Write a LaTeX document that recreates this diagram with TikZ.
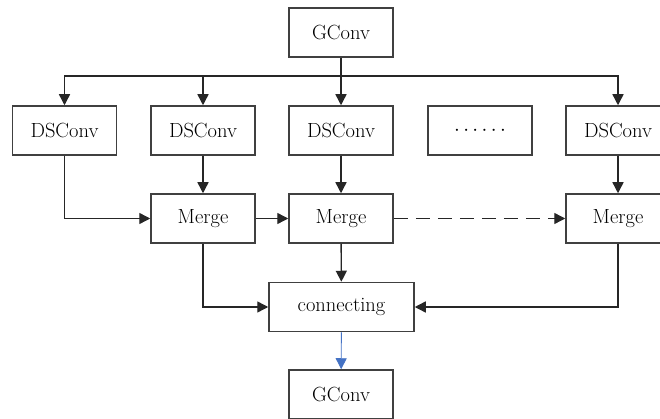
\documentclass[tikz,border=0pt]{standalone}
\usetikzlibrary{arrows.meta}
\definecolor{boxline}{HTML}{404040}
\definecolor{bluearr}{HTML}{4472C4}
\begin{document}
\begin{tikzpicture}[x=1pt,y=-1pt,
  blk/.style={draw=boxline,line width=1.5pt,minimum width=104pt,minimum height=49pt,inner sep=0pt,font=\fontsize{20.5}{24}\selectfont},
  arr/.style={line width=1.4pt,draw=black!85,-{Triangle[length=11pt,width=11pt]}},
  ln/.style={line width=1.4pt,draw=black!85}]
\useasboundingbox (0,0) rectangle (660,419);
\node[blk] (g1) at (341,32.5) {GConv};
\node[blk] (d1) at (64.5,130.5) {DSConv};
\node[blk] (d2) at (203,130.5) {DSConv};
\node[blk] (d3) at (341,130.5) {DSConv};
\node[blk] (dots) at (480,130.5) {$\cdots\cdots$};
\node[blk] (d5) at (618,130.5) {DSConv};
\node[blk] (m1) at (203,218.5) {Merge};
\node[blk] (m2) at (341,218.5) {Merge};
\node[blk] (m3) at (618,218.5) {Merge};
\node[blk,minimum width=145pt] (c) at (341.5,307) {connecting};
\node[blk] (g2) at (341,394.5) {GConv};
\coordinate (bus) at (341,76);
\draw[ln] (g1.south) -- (bus);
\draw[arr] (bus) -| (d1.north);
\draw[arr] (bus) -| (d2.north);
\draw[arr] (bus) -- (d3.north);
\draw[arr] (bus) -| (d5.north);
\draw[arr] (d1.south) |- (m1.west);
\draw[arr] (d2) -- (m1);
\draw[arr] (d3) -- (m2);
\draw[arr] (d5) -- (m3);
\draw[arr] (m1) -- (m2);
\draw[arr,dash pattern=on 14pt off 8pt] (m2) -- (m3);
\draw[arr] (m1.south) |- (c.west);
\draw[arr] (m2) -- (c);
\draw[arr] (m3.south) |- (c.east);
\draw[line width=0.9pt,draw=bluearr,-{Triangle[length=11pt,width=11pt]}] (c) -- (g2);
\end{tikzpicture}
\end{document}
